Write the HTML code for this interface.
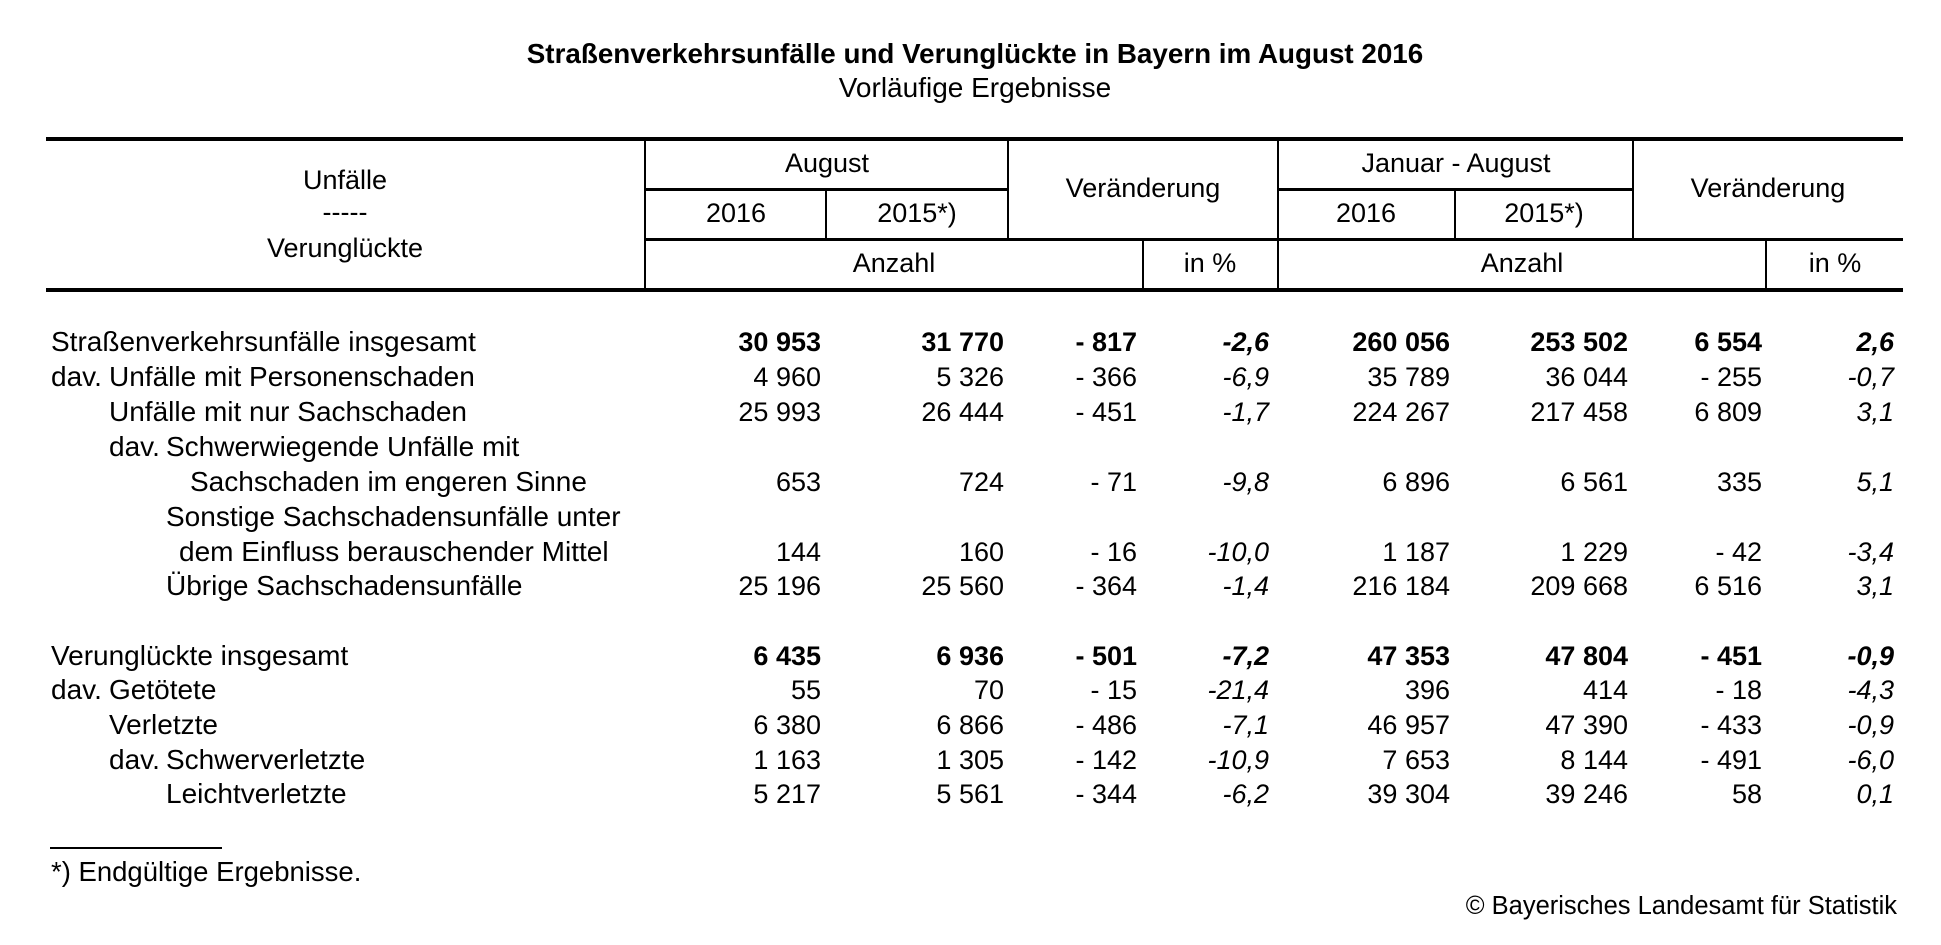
<!DOCTYPE html>
<html><head><meta charset="utf-8"><style>
html,body{margin:0;padding:0;background:#fff;}
svg{display:block;}
text{font-family:"Liberation Sans",Arial,sans-serif;fill:#000;}
.h{font-size:27px;text-anchor:middle;}
.l{font-size:28px;}
.n{font-size:27px;text-anchor:end;}
.p{font-size:27px;text-anchor:end;font-style:italic;}
.b{font-weight:bold;}
</style></head><body>
<svg width="1941" height="945" viewBox="0 0 1941 945" xmlns="http://www.w3.org/2000/svg">
<text x="975" y="63" text-anchor="middle" font-size="27.8" font-weight="bold">Straßenverkehrsunfälle und Verunglückte in Bayern im August 2016</text>
<text x="975" y="97" text-anchor="middle" font-size="28">Vorläufige Ergebnisse</text>
<g fill="#000">
<rect x="46" y="137" width="1857" height="4"/>
<rect x="46" y="288" width="1857" height="4"/>
<rect x="645" y="188" width="363" height="3"/>
<rect x="1278" y="188" width="355" height="3"/>
<rect x="645" y="238" width="1258" height="3"/>
<rect x="644" y="140" width="2" height="150"/>
<rect x="825" y="190" width="2" height="49"/>
<rect x="1007" y="140" width="2" height="99"/>
<rect x="1277" y="140" width="2" height="150"/>
<rect x="1454" y="190" width="2" height="49"/>
<rect x="1632" y="140" width="2" height="99"/>
<rect x="1142" y="240" width="2" height="50"/>
<rect x="1765" y="240" width="2" height="50"/>
<rect x="50" y="847" width="172" height="2"/>
</g>
<text class="h" x="345" y="189">Unfälle</text>
<text class="h" x="345" y="221">-----</text>
<text class="h" x="345" y="257">Verunglückte</text>
<text class="h" x="827" y="172">August</text>
<text class="h" x="1143" y="197">Veränderung</text>
<text class="h" x="1456" y="172">Januar - August</text>
<text class="h" x="1768" y="197">Veränderung</text>
<text class="h" x="736" y="222">2016</text>
<text class="h" x="917" y="222">2015*)</text>
<text class="h" x="1366" y="222">2016</text>
<text class="h" x="1544" y="222">2015*)</text>
<text class="h" x="894" y="272">Anzahl</text>
<text class="h" x="1210" y="272">in %</text>
<text class="h" x="1522" y="272">Anzahl</text>
<text class="h" x="1835" y="272">in %</text>

<g>
<text class="l" x="51" y="351">Straßenverkehrsunfälle insgesamt</text>
<text class="l" x="51" y="386">dav.</text><text class="l" x="109" y="386">Unfälle mit Personenschaden</text>
<text class="l" x="109" y="421">Unfälle mit nur Sachschaden</text>
<text class="l" x="109" y="456">dav.</text><text class="l" x="166" y="456">Schwerwiegende Unfälle mit</text>
<text class="l" x="190" y="491">Sachschaden im engeren Sinne</text>
<text class="l" x="166" y="526">Sonstige Sachschadensunfälle unter</text>
<text class="l" x="179" y="561">dem Einfluss berauschender Mittel</text>
<text class="l" x="166" y="595">Übrige Sachschadensunfälle</text>
<text class="l" x="51" y="665">Verunglückte insgesamt</text>
<text class="l" x="51" y="699">dav.</text><text class="l" x="109" y="699">Getötete</text>
<text class="l" x="109" y="734">Verletzte</text>
<text class="l" x="109" y="769">dav.</text><text class="l" x="166" y="769">Schwerverletzte</text>
<text class="l" x="166" y="803">Leichtverletzte</text>
</g>

<g>
<text class="n b" x="821" y="351">30 953</text><text class="n b" x="1004" y="351">31 770</text><text class="n b" x="1137" y="351">- 817</text><text class="p b" x="1269" y="351">-2,6</text>
<text class="n b" x="1450" y="351">260 056</text><text class="n b" x="1628" y="351">253 502</text><text class="n b" x="1762" y="351">6 554</text><text class="p b" x="1894" y="351">2,6</text>

<text class="n" x="821" y="386">4 960</text><text class="n" x="1004" y="386">5 326</text><text class="n" x="1137" y="386">- 366</text><text class="p" x="1269" y="386">-6,9</text>
<text class="n" x="1450" y="386">35 789</text><text class="n" x="1628" y="386">36 044</text><text class="n" x="1762" y="386">- 255</text><text class="p" x="1894" y="386">-0,7</text>

<text class="n" x="821" y="421">25 993</text><text class="n" x="1004" y="421">26 444</text><text class="n" x="1137" y="421">- 451</text><text class="p" x="1269" y="421">-1,7</text>
<text class="n" x="1450" y="421">224 267</text><text class="n" x="1628" y="421">217 458</text><text class="n" x="1762" y="421">6 809</text><text class="p" x="1894" y="421">3,1</text>

<text class="n" x="821" y="491">653</text><text class="n" x="1004" y="491">724</text><text class="n" x="1137" y="491">- 71</text><text class="p" x="1269" y="491">-9,8</text>
<text class="n" x="1450" y="491">6 896</text><text class="n" x="1628" y="491">6 561</text><text class="n" x="1762" y="491">335</text><text class="p" x="1894" y="491">5,1</text>

<text class="n" x="821" y="561">144</text><text class="n" x="1004" y="561">160</text><text class="n" x="1137" y="561">- 16</text><text class="p" x="1269" y="561">-10,0</text>
<text class="n" x="1450" y="561">1 187</text><text class="n" x="1628" y="561">1 229</text><text class="n" x="1762" y="561">- 42</text><text class="p" x="1894" y="561">-3,4</text>

<text class="n" x="821" y="595">25 196</text><text class="n" x="1004" y="595">25 560</text><text class="n" x="1137" y="595">- 364</text><text class="p" x="1269" y="595">-1,4</text>
<text class="n" x="1450" y="595">216 184</text><text class="n" x="1628" y="595">209 668</text><text class="n" x="1762" y="595">6 516</text><text class="p" x="1894" y="595">3,1</text>

<text class="n b" x="821" y="665">6 435</text><text class="n b" x="1004" y="665">6 936</text><text class="n b" x="1137" y="665">- 501</text><text class="p b" x="1269" y="665">-7,2</text>
<text class="n b" x="1450" y="665">47 353</text><text class="n b" x="1628" y="665">47 804</text><text class="n b" x="1762" y="665">- 451</text><text class="p b" x="1894" y="665">-0,9</text>

<text class="n" x="821" y="699">55</text><text class="n" x="1004" y="699">70</text><text class="n" x="1137" y="699">- 15</text><text class="p" x="1269" y="699">-21,4</text>
<text class="n" x="1450" y="699">396</text><text class="n" x="1628" y="699">414</text><text class="n" x="1762" y="699">- 18</text><text class="p" x="1894" y="699">-4,3</text>

<text class="n" x="821" y="734">6 380</text><text class="n" x="1004" y="734">6 866</text><text class="n" x="1137" y="734">- 486</text><text class="p" x="1269" y="734">-7,1</text>
<text class="n" x="1450" y="734">46 957</text><text class="n" x="1628" y="734">47 390</text><text class="n" x="1762" y="734">- 433</text><text class="p" x="1894" y="734">-0,9</text>

<text class="n" x="821" y="769">1 163</text><text class="n" x="1004" y="769">1 305</text><text class="n" x="1137" y="769">- 142</text><text class="p" x="1269" y="769">-10,9</text>
<text class="n" x="1450" y="769">7 653</text><text class="n" x="1628" y="769">8 144</text><text class="n" x="1762" y="769">- 491</text><text class="p" x="1894" y="769">-6,0</text>

<text class="n" x="821" y="803">5 217</text><text class="n" x="1004" y="803">5 561</text><text class="n" x="1137" y="803">- 344</text><text class="p" x="1269" y="803">-6,2</text>
<text class="n" x="1450" y="803">39 304</text><text class="n" x="1628" y="803">39 246</text><text class="n" x="1762" y="803">58</text><text class="p" x="1894" y="803">0,1</text>
</g>

<text x="51" y="881" font-size="27.5">*) Endgültige Ergebnisse.</text>
<text x="1897" y="914" font-size="25.5" text-anchor="end">© Bayerisches Landesamt für Statistik</text>
</svg>
</body></html>
